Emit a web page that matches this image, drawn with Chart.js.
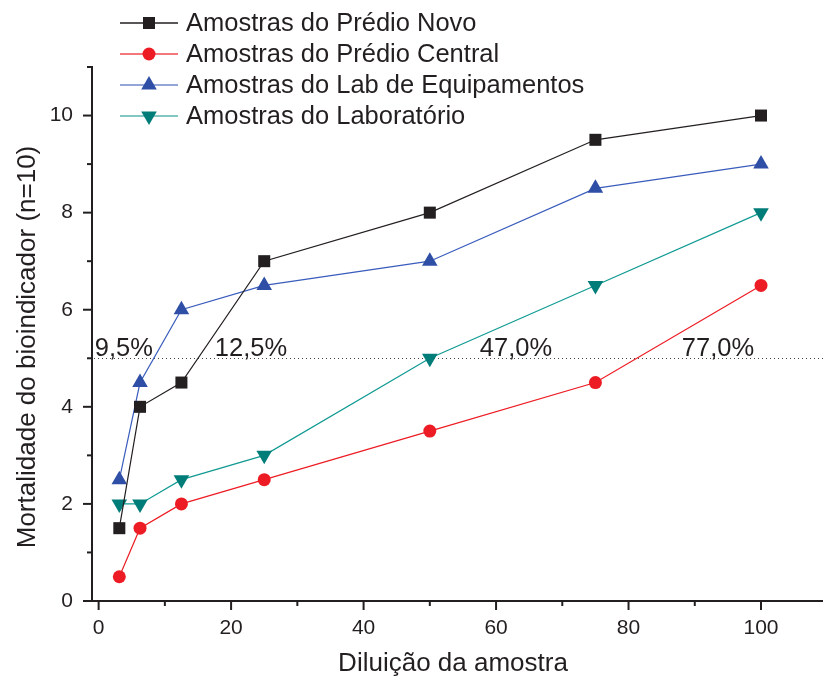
<!DOCTYPE html>
<html>
<head>
<meta charset="utf-8">
<script src="https://cdn.jsdelivr.net/npm/chart.js@4.4.1/dist/chart.umd.min.js"></script>
<style>
  html, body { margin: 0; padding: 0; background: #fff; }
  #wrap { width: 823px; height: 677px; }
</style>
</head>
<body>
<div id="wrap"><canvas id="chart" width="823" height="677"></canvas></div>
<script>
const dilutions = [3.125, 6.25, 12.5, 25, 50, 75, 100];
const predioNovo = [1.5, 4, 4.5, 7, 8, 9.5, 10];
const predioCentral = [0.5, 1.5, 2, 2.5, 3.5, 4.5, 6.5];
const labEquipamentos = [2.5, 4.5, 6, 6.5, 7, 8.5, 9];
const laboratorio = [2, 2, 2.5, 3, 5, 6.5, 8];

const seriesNames = [
  'Amostras do Prédio Novo',
  'Amostras do Prédio Central',
  'Amostras do Lab de Equipamentos',
  'Amostras do Laboratório',
];

const xMajor = [0, 20, 40, 60, 80, 100];
const xMinor = [10, 30, 50, 70, 90];
const yMajor = [0, 2, 4, 6, 8, 10];
const yMinor = [1, 3, 5, 7, 9, 11];

const cutoff = 5;
const cutoffLabels = ['9,5%', '12,5%', '47,0%', '77,0%'];
const cutoffLabelX = [3.8, 23, 63, 93.5];

const yTitle = 'Mortalidade do bioindicador (n=10)';

const INK = '#231f20';
const FONT = "'Liberation Sans', Arial, sans-serif";

const toPoints = (ys) => ys.map((y, i) => ({ x: dilutions[i], y }));

const makeSet = (label, ys, color, lineColor, style, radius, rotation) => ({
  label,
  data: toPoints(ys),
  borderColor: lineColor,
  backgroundColor: color,
  borderWidth: 1.2,
  pointStyle: style,
  pointRadius: radius,
  pointHoverRadius: radius,
  pointRotation: rotation,
  pointBackgroundColor: color,
  pointBorderWidth: 0,
  tension: 0,
});

const datasets = [
  makeSet(seriesNames[0], predioNovo, '#231f20', '#231f20', 'rect', 8.5, 0),
  makeSet(seriesNames[1], predioCentral, '#ed1c24', '#ed1c24', 'circle', 6.5, 0),
  makeSet(seriesNames[2], labEquipamentos, '#2f4fa6', '#3a5cbc', 'triangle', 9, 0),
  makeSet(seriesNames[3], laboratorio, '#007d78', '#119a93', 'triangle', 9, 180),
];

// dotted cut-off line and its labels
const cutoffPlugin = {
  id: 'cutoff',
  beforeDatasetsDraw(chart) {
    const { ctx, chartArea, scales } = chart;
    const y = Math.round(scales.y.getPixelForValue(cutoff)) + 0.5;
    ctx.save();
    ctx.strokeStyle = '#444';
    ctx.lineWidth = 1;
    ctx.setLineDash([1, 3]);
    ctx.beginPath();
    ctx.moveTo(chartArea.left + 2, y);
    ctx.lineTo(823, y);
    ctx.stroke();
    ctx.restore();
  },
  afterDatasetsDraw(chart) {
    const { ctx, scales } = chart;
    const y = scales.y.getPixelForValue(cutoff);
    ctx.save();
    ctx.fillStyle = INK;
    ctx.font = `25.5px ${FONT}`;
    ctx.textAlign = 'center';
    ctx.textBaseline = 'alphabetic';
    cutoffLabels.forEach((t, i) => {
      ctx.fillText(t, scales.x.getPixelForValue(cutoffLabelX[i]), y - 2);
    });
    ctx.restore();
  },
};

// outward major / minor ticks, y title
const ticksPlugin = {
  id: 'outerTicks',
  afterDraw(chart) {
    const { ctx, chartArea, scales } = chart;
    ctx.save();
    ctx.strokeStyle = INK;
    ctx.lineWidth = 2;
    const xTick = (v, len) => {
      const px = scales.x.getPixelForValue(v);
      ctx.beginPath();
      ctx.moveTo(px, chartArea.bottom);
      ctx.lineTo(px, chartArea.bottom + len);
      ctx.stroke();
    };
    const yTick = (v, len) => {
      const py = scales.y.getPixelForValue(v);
      ctx.beginPath();
      ctx.moveTo(chartArea.left, py);
      ctx.lineTo(chartArea.left - len, py);
      ctx.stroke();
    };
    xMajor.forEach((v) => xTick(v, 9));
    xMinor.forEach((v) => xTick(v, 5));
    yMajor.forEach((v) => yTick(v, 9));
    yMinor.forEach((v) => yTick(v, 5));
    // axis continues to the window edge
    ctx.beginPath();
    ctx.moveTo(chartArea.right, chartArea.bottom);
    ctx.lineTo(823, chartArea.bottom);
    ctx.stroke();

    ctx.translate(28, 347);
    ctx.rotate(-Math.PI / 2);
    ctx.fillStyle = INK;
    ctx.font = `26px ${FONT}`;
    ctx.textAlign = 'center';
    ctx.textBaseline = 'middle';
    ctx.fillText(yTitle, 0, 0);
    ctx.restore();
  },
};

// legend drawn inside the plot
const legendPlugin = {
  id: 'innerLegend',
  afterDraw(chart) {
    const { ctx } = chart;
    const rowY = [23, 54, 85, 116];
    const legendLine = ['#231f20', '#f04a50', '#6f88c9', '#58b5ae'];
    ctx.save();
    chart.data.datasets.forEach((ds, i) => {
      const y = rowY[i];
      ctx.strokeStyle = legendLine[i];
      ctx.lineWidth = 1.5;
      ctx.beginPath();
      ctx.moveTo(120, y);
      ctx.lineTo(178, y);
      ctx.stroke();
      ctx.fillStyle = ds.pointBackgroundColor;
      Chart.helpers.drawPoint(ctx, {
        pointStyle: ds.pointStyle,
        radius: ds.pointRadius,
        rotation: ds.pointRotation,
        borderWidth: 0,
      }, 149, y);
      ctx.fillStyle = INK;
      ctx.font = `25.5px ${FONT}`;
      ctx.textAlign = 'left';
      ctx.textBaseline = 'middle';
      ctx.fillText(ds.label, 186, y + 1);
    });
    ctx.restore();
  },
};

new Chart(document.getElementById('chart'), {
  type: 'line',
  data: { datasets },
  options: {
    responsive: false,
    devicePixelRatio: 1,
    animation: false,
    layout: { padding: { top: 67, right: 0, bottom: 0, left: 0 } },
    plugins: {
      legend: { display: false },
      tooltip: { enabled: false },
    },
    scales: {
      x: {
        type: 'linear',
        min: -1,
        max: 108,
        grid: { display: false },
        border: { display: true, color: INK, width: 2 },
        afterBuildTicks: (scale) => { scale.ticks = xMajor.map((v) => ({ value: v })); },
        afterFit: (scale) => { scale.height = 76; },
        ticks: {
          color: INK,
          padding: 7,
          maxRotation: 0,
          font: { family: FONT, size: 21 },
        },
        title: {
          display: true,
          text: 'Diluição da amostra',
          color: INK,
          font: { family: FONT, size: 26, lineHeight: 1 },
          padding: { top: 0, bottom: 0 },
        },
      },
      y: {
        type: 'linear',
        min: 0,
        max: 11,
        grid: { display: false },
        border: { display: true, color: INK, width: 2 },
        afterBuildTicks: (scale) => { scale.ticks = yMajor.map((v) => ({ value: v })); },
        afterFit: (scale) => { scale.width = 92; },
        ticks: {
          color: INK,
          padding: 11,
          font: { family: FONT, size: 21 },
        },
        title: { display: false },
      },
    },
  },
  plugins: [cutoffPlugin, ticksPlugin, legendPlugin],
});
</script>
</body>
</html>
